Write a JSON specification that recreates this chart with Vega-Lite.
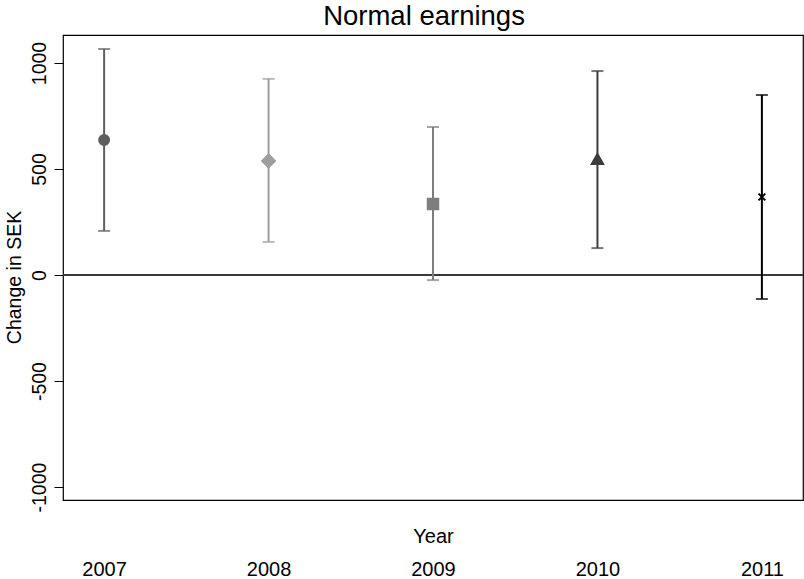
{
  "$schema": "https://vega.github.io/schema/vega-lite/v6.json",
  "autosize": {"type": "none"},
  "width": 740,
  "height": 465,
  "padding": {"left": 63, "top": 35, "right": 1, "bottom": 79},
  "background": "white",
  "title": {"text": "Normal earnings", "font": "Liberation Sans", "fontSize": 27.5, "fontWeight": "normal", "color": "black", "anchor": "middle", "dx": -9, "offset": 5},
  "config": {
    "view": {"stroke": "black", "strokeWidth": 1.2},
    "axis": {"labelFont": "Liberation Sans", "titleFont": "Liberation Sans", "labelColor": "black", "titleColor": "black", "titleFontWeight": "normal", "grid": false}
  },
  "data": {"values": [
    {"year": 2007, "est": 637, "lo": 208, "hi": 1066},
    {"year": 2008, "est": 538, "lo": 156, "hi": 925},
    {"year": 2009, "est": 335, "lo": -24, "hi": 698},
    {"year": 2010, "est": 547, "lo": 127, "hi": 962},
    {"year": 2011, "est": 368, "lo": -113, "hi": 849}
  ]},
  "encoding": {
    "x": {"field": "year", "type": "quantitative", "scale": {"domain": [2006.75, 2011.25], "nice": false, "zero": false},
      "axis": {"values": [2007, 2008, 2009, 2010, 2011], "format": "d", "domain": false, "ticks": false, "tickSize": 0, "labelFontSize": 20, "labelPadding": 69, "labelBaseline": "middle", "title": "Year", "titleFontSize": 20, "titleY": 36, "titleBaseline": "middle"}},
    "color": {"field": "year", "type": "nominal", "legend": null, "scale": {"domain": [2007, 2008, 2009, 2010, 2011], "range": ["#5f5f5f", "#9e9e9e", "#7e7e7e", "#3c3c3c", "#000000"]}}
  },
  "layer": [
    {"mark": {"type": "rule", "color": "#3a3a3a", "strokeWidth": 1.5},
     "encoding": {"y": {"datum": 0, "type": "quantitative"}, "x": null, "color": null}},
    {"mark": {"type": "rule", "strokeWidth": 2},
     "encoding": {
       "y": {"field": "lo", "type": "quantitative", "scale": {"domain": [-1061, 1132], "nice": false, "zero": false},
         "axis": {"values": [-1000, -500, 0, 500, 1000], "labelExpr": "'' + datum.value", "domain": false, "tickSize": 9, "tickColor": "black", "labelFontSize": 19.5, "labelAngle": -90, "labelAlign": "center", "labelBaseline": "bottom", "labelPadding": 5, "title": "Change in SEK", "titleFontSize": 19.5, "titleX": -49, "titleY": 242, "titleBaseline": "middle", "titleAngle": -90}},
       "y2": {"field": "hi"}}},
    {"mark": {"type": "tick", "orient": "horizontal", "thickness": 2, "size": 12},
     "encoding": {"y": {"field": "lo", "type": "quantitative"}}},
    {"mark": {"type": "tick", "orient": "horizontal", "thickness": 2, "size": 12},
     "encoding": {"y": {"field": "hi", "type": "quantitative"}}},
    {"mark": {"type": "point", "filled": true, "opacity": 1, "strokeWidth": 2},
     "encoding": {
       "y": {"field": "est", "type": "quantitative"},
       "size": {"field": "year", "type": "nominal", "legend": null, "scale": {"type": "ordinal", "domain": [2007, 2008, 2009, 2010, 2011], "range": [100, 165, 110, 130, 45]}},
       "stroke": {"field": "year", "type": "nominal", "legend": null, "scale": {"domain": [2007, 2008, 2009, 2010, 2011], "range": ["#5f5f5f", "#9e9e9e", "#7e7e7e", "#3c3c3c", "#000000"]}},
       "shape": {"field": "year", "type": "nominal", "legend": null, "scale": {"domain": [2007, 2008, 2009, 2010, 2011], "range": ["circle", "diamond", "square", "triangle-up", "M-1,-1L1,1M-1,1L1,-1"]}}
     }}
  ]
}
